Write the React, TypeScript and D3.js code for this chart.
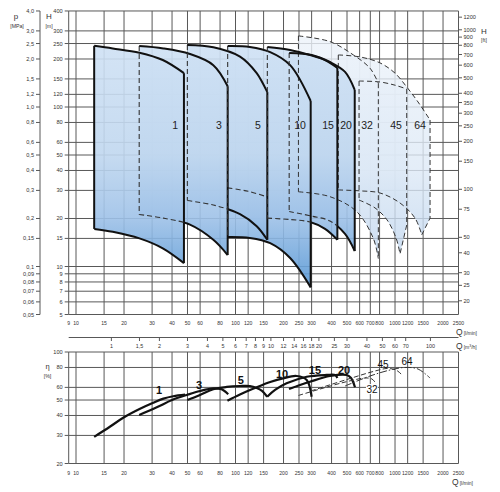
import React from "react";
import * as d3 from "d3";

// ---------- axis tick values ----------
const qTicks = [9, 10, 15, 20, 30, 40, 50, 60, 80, 100, 120, 150, 200, 250, 300, 400, 500, 600, 700, 800, 1000, 1200, 1500, 2000, 2500];
const hTicks = [400, 300, 250, 200, 150, 120, 100, 80, 60, 50, 40, 30, 20, 15, 10, 9, 8, 7, 6, 5];
const pTicks = [4.0, 3.0, 2.5, 2.0, 1.5, 1.2, 1.0, 0.8, 0.6, 0.5, 0.4, 0.3, 0.2, 0.15, 0.1, 0.09, 0.08, 0.07, 0.06, 0.05];
const ftTicks = [1200, 1000, 900, 800, 700, 600, 500, 400, 350, 300, 250, 200, 150, 100, 75, 50, 40, 30, 25, 20];
const m3hTicks = [1, 1.5, 2, 3, 4, 5, 6, 7, 8, 9, 10, 12, 14, 16, 18, 20, 25, 30, 40, 50, 60, 70, 100];
const etaTicks = [100, 80, 60, 50, 40, 30, 20];

// ---------- pumps ----------
const pumpNames = ["1", "3", "5", "10", "15", "20", "32", "45", "64"];

// Q [l/min] and H [m] of the upper (max) and lower (min) envelope of each pump
const q1 = [13, 17, 25, 35, 47.5];
const top1 = [242, 233, 219, 197, 163];
const bot1 = [17.2, 16.5, 15.0, 13.0, 10.5];

const q3 = [24.9, 35.3, 51.8, 72.6, 89.3];
const top3 = [241, 233, 215, 183, 135];
const bot3 = [21.2, 20.1, 18.3, 14.7, 11.8];

const q5 = [49.9, 72.6, 106.7, 135.8, 158.3];
const top5 = [245, 237, 207, 163, 124];
const bot5 = [25.9, 24.3, 21.3, 17.9, 14.7];

const q10 = [89.3, 123, 165, 220, 296];
const top10 = [241, 238, 221, 183, 109];
const bot10 = [15.3, 15.1, 14.0, 11.3, 7.4];
const q10inner = [89.3, 120, 158.3];
const h10inner = [31.1, 29.6, 27.3];

const q15 = [158.3, 220, 293, 364, 435];
const top15 = [238, 228, 212, 197, 176];
const bot15 = [20.1, 19.7, 19.0, 17.2, 14.7];

const q20 = [217, 300, 391, 486, 559];
const top20 = [218, 212, 191.5, 166, 128];
const bot20 = [22.1, 20.7, 19.3, 16.0, 12.5];

const q32top = [248, 391, 548, 697, 786];
const top32 = [279, 257, 212, 175, 141];
const q32bot = [248, 391, 575, 731, 786];
const bot32 = [29.4, 27.4, 22.1, 15.0, 11.2];

const q45top = [595, 805, 1000, 1184];
const top45 = [145.5, 143.5, 137, 129.7];
const q45bot = [595, 749, 891, 1015, 1075];
const bot45 = [26.1, 23.3, 19.6, 15.1, 12.0];

const q64top = [441, 603, 805, 1000, 1184, 1394, 1658];
const top64 = [212, 206, 189, 163, 133.5, 107.5, 82.9];
const q64bot = [441, 603, 805, 1075, 1335, 1471];
const bot64 = [30.2, 29.8, 28.9, 25.0, 20.1, 15.8];

const topQ = [q1, q3, q5, q10, q15, q20, q32top, q45top, q64top];
const topH = [top1, top3, top5, top10, top15, top20, top32, top45, top64];
const botQ = [q1, q3, q5, q10, q15, q20, q32bot, q45bot, q64bot];
const botH = [bot1, bot3, bot5, bot10, bot15, bot20, bot32, bot45, bot64];
const kneeH: (number | null)[] = [null, null, null, null, null, null, null, 18.2, 20.1];
// flow from which the lower envelope is drawn solid (hidden part is dashed)
const solidFromQ = [13, 47.5, 89.3, 89.3, 296, 435, 0, 0, 0];

// pump label positions in the head chart
const headLabelQ = [41.8, 78.8, 138.4, 253.7, 380, 493, 668, 1015, 1434];
const headLabelH = [77, 77, 77, 77, 77, 77, 77, 77, 77];

// ---------- efficiency curves (Q [l/min], eta [%]) ----------
const eq1 = [13.0, 16.3, 20.0, 25.2, 30.5, 35.3, 40.7, 48.3];
const e1 = [29.4, 34.0, 39.0, 44.1, 48.1, 51.0, 52.8, 54.0];
const eq3 = [24.9, 32.1, 40.0, 49.5, 59.9, 72.6, 81.8, 90];
const e3 = [40.3, 45.0, 50.0, 53.8, 57.0, 59.2, 58.4, 54.3];
const eq5 = [49.9, 59.9, 72.6, 88.1, 106.7, 123, 135.8, 146.6, 158];
const e5 = [50.0, 53.8, 58.4, 60.4, 61.2, 61.2, 59.5, 57.0, 52.4];
const eq10 = [89, 106.6, 135.8, 165, 198.6, 241.9, 279.5, 300];
const e10 = [49.5, 54.2, 60.1, 64.8, 68.4, 70.7, 66.7, 52.4];
const eq15 = [158, 177, 209, 279.5, 373, 421, 435];
const e15 = [52.4, 57.8, 63.6, 70.0, 71.8, 71.8, 68.7];
const eq20 = [216.5, 253.7, 293, 391, 498, 530, 561];
const e20 = [58.6, 62.1, 65.1, 70.7, 71.8, 68.7, 60.1];
const eq32 = [248, 339, 486, 649, 717, 771];
const e32 = [53.4, 58.6, 64.8, 68.7, 67.7, 62.1];
const eq45 = [297, 486, 749, 891, 1015, 1106];
const e45 = [57.0, 66.7, 76.0, 78.8, 77.1, 71.8];
const eq64 = [486, 697, 930, 1155, 1394, 1658];
const e64 = [61.2, 70.7, 77.1, 80.0, 78.2, 68.7];

const effQ = [eq1, eq3, eq5, eq10, eq15, eq20, eq32, eq45, eq64];
const effE = [e1, e3, e5, e10, e15, e20, e32, e45, e64];
const effLabelQ = [33.2, 59.0, 108, 196, 315, 479, 717, 841, 1189];
const effLabelE = [57.0, 62.1, 66.7, 71.8, 77.1, 77.1, 58.6, 82.9, 86.6];

// ---------- scales ----------
const x = d3.scaleLog().domain([10, 2500]).range([76, 458.5]);
const yH = d3.scaleLog().domain([100, 10]).range([107, 266.5]);
const yE = d3.scaleLog().domain([100, 20]).range([352, 463.5]);

const FONT = "'Liberation Sans', Arial, sans-serif";
const GRID = "#585858";

const lineGen = d3.line<[number, number]>().curve(d3.curveCatmullRom.alpha(0.5));
const ptsH = (qs: number[], hs: number[]) => qs.map((q, i) => [x(q), yH(hs[i])] as [number, number]);

const commaFmt = (v: number) => {
  const s = Math.abs(Math.round(v * 100) % 10) === 0 ? v.toFixed(1) : v.toFixed(2);
  return s.replace(".", ",");
};
const m3Fmt = (v: number) => String(v).replace(".", ",");

type Pump = {
  name: string; qt: number[]; ht: number[]; qb: number[]; hb: number[];
  knee: number | null; ghost: boolean; solidFrom: number; idx: number;
};

const pumps: Pump[] = pumpNames.map((name, i) => ({
  name, qt: topQ[i], ht: topH[i], qb: botQ[i], hb: botH[i], knee: kneeH[i],
  ghost: i >= 6, solidFrom: solidFromQ[i], idx: i,
}));

function rightEdge(p: Pump) {
  const top = ptsH(p.qt, p.ht);
  const bot = ptsH(p.qb, p.hb);
  const tl = top[top.length - 1];
  const bl = bot[bot.length - 1];
  let d = `M${tl[0]},${tl[1]}`;
  if (p.knee != null) d += `L${tl[0]},${yH(p.knee)}`;
  d += `L${bl[0]},${bl[1]}`;
  return d;
}

function areaPath(p: Pump) {
  const top = ptsH(p.qt, p.ht);
  const bot = ptsH(p.qb, p.hb);
  let d = lineGen(top) as string;
  d += rightEdge(p).replace(/^M[^L]*/, "");
  d += (lineGen([...bot].reverse()) as string).replace(/^M/, "L");
  return d + "Z";
}

export default function App() {
  const gridQ = qTicks.filter((q) => q >= 10);
  const xL = x(9);
  const xR = x(2500);
  const solidPumps = pumps.filter((p) => !p.ghost);
  const ghostPumps = pumps.filter((p) => p.ghost);

  return (
    <svg width={500} height={492} style={{ position: "absolute", left: 0, top: 0, background: "#fff" }} fontFamily={FONT}>
      <defs>
        <linearGradient id="gBlue" gradientUnits="userSpaceOnUse" x1="0" y1={yH(250)} x2="0" y2={yH(7)}>
          <stop offset="0" stopColor="#cfe1f4" />
          <stop offset="0.45" stopColor="#c0d7ef" />
          <stop offset="0.7" stopColor="#9fc2e8" />
          <stop offset="1" stopColor="#5294d3" />
        </linearGradient>
        <linearGradient id="gGhost" gradientUnits="userSpaceOnUse" x1="0" y1={yH(280)} x2="0" y2={yH(11)}>
          <stop offset="0" stopColor="#edf3fa" />
          <stop offset="0.6" stopColor="#dde9f6" />
          <stop offset="1" stopColor="#bfd5ee" />
        </linearGradient>
        {pumps.map((p) => (
          <React.Fragment key={p.name}>
            <clipPath id={`cd${p.idx}`}>
              <rect x={0} y={0} width={x(Math.max(p.solidFrom, 9))} height={492} />
            </clipPath>
            <clipPath id={`cs${p.idx}`}>
              <rect x={x(Math.max(p.solidFrom, 9))} y={0} width={500} height={492} />
            </clipPath>
          </React.Fragment>
        ))}
      </defs>

      {/* ================= HEAD CHART ================= */}
      <g stroke={GRID} strokeWidth={1}>
        {hTicks.map((h) => (
          <line key={`hg${h}`} x1={xL} x2={xR} y1={yH(h)} y2={yH(h)} />
        ))}
        {gridQ.map((q) => (
          <line key={`vg${q}`} x1={x(q)} x2={x(q)} y1={yH(400)} y2={yH(5)} />
        ))}
        <line x1={xL} x2={xL} y1={yH(400)} y2={yH(5)} />
        {hTicks.map((h) => (
          <line key={`ht${h}`} x1={xL - 4} x2={xL} y1={yH(h)} y2={yH(h)} />
        ))}
        <line x1={40} x2={40} y1={yH(400)} y2={yH(5)} />
        {pTicks.map((p) => (
          <line key={`pt${p}`} x1={36} x2={40} y1={yH(p * 100)} y2={yH(p * 100)} />
        ))}
        {ftTicks.map((f) => (
          <line key={`ft${f}`} x1={xR} x2={xR + 3.5} y1={yH(f * 0.3048)} y2={yH(f * 0.3048)} />
        ))}
      </g>

      {/* fills */}
      {ghostPumps.slice().reverse().map((p) => (
        <path key={`gf${p.name}`} d={areaPath(p)} fill="url(#gGhost)" fillOpacity={0.8} />
      ))}
      {solidPumps.slice().reverse().map((p) => (
        <path key={`sf${p.name}`} d={areaPath(p)} fill="url(#gBlue)" fillOpacity={0.9} />
      ))}

      {/* ghost outlines */}
      {ghostPumps.map((p) => {
        const top = ptsH(p.qt, p.ht);
        const bot = ptsH(p.qb, p.hb);
        return (
          <g key={`go${p.name}`} fill="none" stroke="#333" strokeWidth={1} strokeDasharray="5 3">
            <path d={lineGen(top) as string} />
            <path d={lineGen(bot) as string} />
            <path d={rightEdge(p)} />
            <path d={`M${top[0][0]},${top[0][1]}L${bot[0][0]},${bot[0][1]}`} />
          </g>
        );
      })}

      {/* pump 10 hidden line */}
      <path d={lineGen(ptsH(q10inner, h10inner)) as string} fill="none" stroke="#333" strokeWidth={1.1} strokeDasharray="5 3" />

      {/* solid pump outlines */}
      {solidPumps.map((p) => {
        const top = ptsH(p.qt, p.ht);
        const bot = ptsH(p.qb, p.hb);
        const botD = lineGen(bot) as string;
        return (
          <g key={`so${p.name}`} fill="none">
            {p.idx > 0 && (
              <path d={`M${top[0][0]},${top[0][1]}L${bot[0][0]},${bot[0][1]}`} stroke="#333" strokeWidth={1.1} strokeDasharray="5 3" />
            )}
            <path d={botD} stroke="#333" strokeWidth={1.1} strokeDasharray="5 3" clipPath={`url(#cd${p.idx})`} />
            <path d={botD} stroke="#111" strokeWidth={2} clipPath={`url(#cs${p.idx})`} />
            <path d={lineGen(top) as string} stroke="#111" strokeWidth={2} />
            <path d={rightEdge(p)} stroke="#111" strokeWidth={2} />
            {p.idx === 0 && (
              <path d={`M${top[0][0]},${top[0][1]}L${bot[0][0]},${bot[0][1]}`} stroke="#111" strokeWidth={2} />
            )}
          </g>
        );
      })}

      {/* pump labels */}
      {pumps.map((p, i) => (
        <text key={`hl${p.name}`} x={x(headLabelQ[i])} y={yH(headLabelH[i]) + 4} fontSize={10.5} textAnchor="middle" fill="#222">
          {p.name}
        </text>
      ))}

      {/* head chart axis labels */}
      <g fontSize={5.6} fill="#333">
        {hTicks.map((h) => (
          <text key={`hl${h}`} x={xL - 6} y={yH(h) + 2} textAnchor="end">{h}</text>
        ))}
        {pTicks.map((p) => (
          <text key={`pl${p}`} x={34} y={yH(p * 100) + 2} textAnchor="end">{commaFmt(p)}</text>
        ))}
        {ftTicks.map((f) => (
          <text key={`fl${f}`} x={xR + 5} y={yH(f * 0.3048) + 2} textAnchor="start">{f}</text>
        ))}
      </g>
      <g fontSize={5.1} fill="#333">
        {qTicks.map((q) => (
          <text key={`ql${q}`} x={x(q)} y={324.5} textAnchor="middle">{q}</text>
        ))}
      </g>
      <text x={16} y={19} fontSize={8} fill="#333" textAnchor="middle">p</text>
      <text x={17} y={28} fontSize={5.2} fill="#333" textAnchor="middle">[MPa]</text>
      <text x={49} y={19} fontSize={8} fill="#333" textAnchor="middle">H</text>
      <text x={49} y={28} fontSize={5.2} fill="#333" textAnchor="middle">[m]</text>
      <text x={484} y={34} fontSize={8} fill="#333" textAnchor="middle">H</text>
      <text x={484} y={42} fontSize={5.2} fill="#333" textAnchor="middle">[ft]</text>
      <text x={456} y={335} fontSize={8.5} fill="#333">Q<tspan fontSize={5} dx={1}>[l/min]</tspan></text>

      {/* m3/h axis */}
      <g stroke={GRID} strokeWidth={1}>
        <line x1={xL} x2={xR} y1={337.5} y2={337.5} />
        {m3hTicks.map((v) => (
          <line key={`mt${v}`} x1={x((v * 1000) / 60)} x2={x((v * 1000) / 60)} y1={337.5} y2={341} />
        ))}
      </g>
      <g fontSize={5.4} fill="#333">
        {m3hTicks.map((v) => (
          <text key={`ml${v}`} x={x((v * 1000) / 60)} y={348} textAnchor="middle">{m3Fmt(v)}</text>
        ))}
      </g>
      <text x={456} y={349} fontSize={8.5} fill="#333">Q<tspan fontSize={5} dx={1}>[m</tspan><tspan fontSize={3.5} dy={-2}>3</tspan><tspan fontSize={5} dy={2}>/h]</tspan></text>

      {/* ================= EFFICIENCY CHART ================= */}
      <g stroke={GRID} strokeWidth={1}>
        {etaTicks.map((e) => (
          <line key={`eg${e}`} x1={xL} x2={xR} y1={yE(e)} y2={yE(e)} />
        ))}
        {gridQ.map((q) => (
          <line key={`evg${q}`} x1={x(q)} x2={x(q)} y1={yE(100)} y2={yE(20)} />
        ))}
        <line x1={xL} x2={xL} y1={yE(100)} y2={yE(20)} />
        {etaTicks.map((e) => (
          <line key={`et${e}`} x1={xL - 4} x2={xL} y1={yE(e)} y2={yE(e)} />
        ))}
      </g>
      <g fontSize={5.6} fill="#333">
        {etaTicks.map((e) => (
          <text key={`el${e}`} x={xL - 6} y={yE(e) + 2} textAnchor="end">{e}</text>
        ))}
      </g>
      <g fontSize={5.1} fill="#333">
        {qTicks.map((q) => (
          <text key={`eql${q}`} x={x(q)} y={474.5} textAnchor="middle">{q}</text>
        ))}
      </g>
      <text x={47.5} y={369} fontSize={7.5} fill="#333" textAnchor="middle">η</text>
      <text x={47.5} y={378} fontSize={5.2} fill="#333" textAnchor="middle">[%]</text>
      <text x={452} y={485} fontSize={8.5} fill="#333">Q<tspan fontSize={5} dx={1}>[l/min]</tspan></text>

      {/* efficiency curves */}
      {effQ.map((qs, i) => {
        const d = lineGen(qs.map((q, j) => [x(q), yE(effE[i][j])] as [number, number])) as string;
        const ghost = i >= 6;
        return (
          <path
            key={`ec${i}`}
            d={d}
            fill="none"
            stroke={ghost ? "#333" : "#111"}
            strokeWidth={ghost ? 1 : 2.2}
            strokeDasharray={i === 8 ? "7 2 1.5 2" : ghost ? "5 2.5" : undefined}
          />
        );
      })}
      {pumpNames.map((n, i) => {
        const ghost = i >= 6;
        const cx = x(effLabelQ[i]);
        const cy = yE(effLabelE[i]);
        return (
          <g key={`elb${n}`}>
            {n === "32" && <rect x={cx - 6} y={cy - 5} width={12} height={10} fill="#fff" />}
            <text x={cx} y={cy + 3.5} fontSize={ghost ? 10 : 11} fontWeight={ghost ? "normal" : "bold"} textAnchor="middle" fill="#111">
              {n}
            </text>
          </g>
        );
      })}
    </svg>
  );
}
